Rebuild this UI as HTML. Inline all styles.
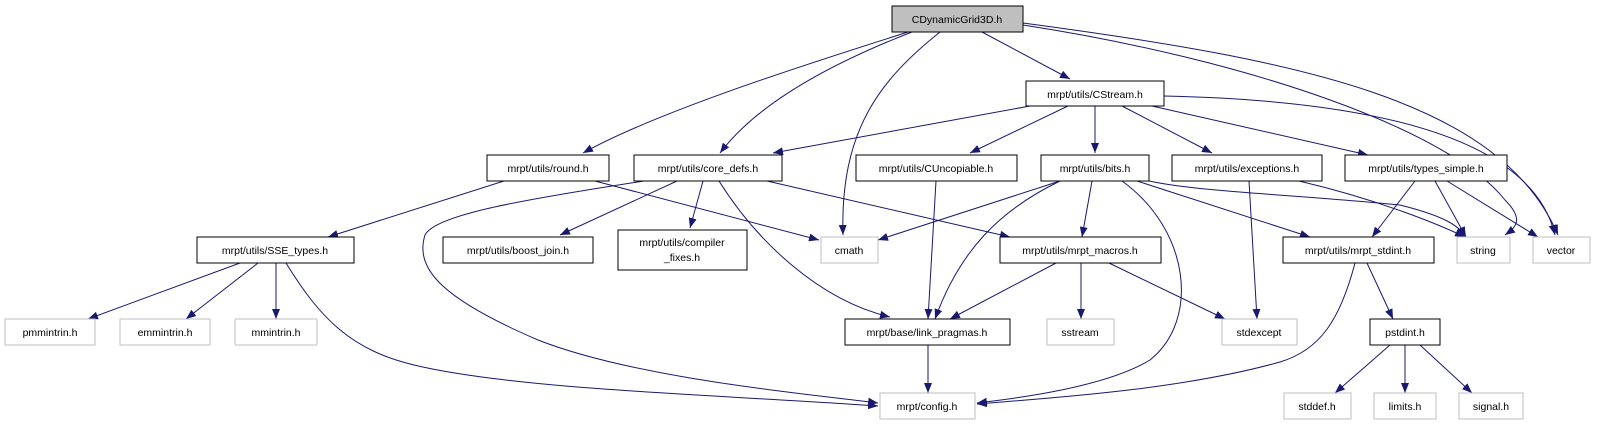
<!DOCTYPE html>
<html><head><meta charset="utf-8"><style>
html,body{margin:0;padding:0;background:#fff;}
svg{display:block;}
text{font-family:"Liberation Sans",sans-serif;font-size:10.5px;fill:#000;}
.b{fill:#fff;stroke:#000;stroke-width:1;}
.g{fill:#fff;stroke:#bfbfbf;stroke-width:1;}
.e{fill:none;stroke:#191970;stroke-width:1;}
</style></head><body>
<svg width="1624" height="425" viewBox="0 0 1624 425" xmlns="http://www.w3.org/2000/svg">
<defs><marker id="a" markerWidth="10" markerHeight="8" refX="10" refY="4" orient="auto" markerUnits="userSpaceOnUse"><path d="M0,0 L10,4 L0,8 z" fill="#191970"/></marker></defs>
<g marker-end="url(#a)">
<path class="e" d="M908,32 C820,60 660,110 583,153"/>
<path class="e" d="M912,32 C840,60 760,100 720,153"/>
<path class="e" d="M940,32 C880,80 840,130 843,235"/>
<path class="e" d="M982,32 L1070,79"/>
<path class="e" d="M1023,25 C1250,60 1450,130 1505,200 C1525,220 1515,228 1505,235"/>
<path class="e" d="M1023,23 C1300,60 1500,100 1558,235"/>
<path class="e" d="M1030,106 L773,153"/>
<path class="e" d="M1068,106 L970,153"/>
<path class="e" d="M1095,106 L1095,153"/>
<path class="e" d="M1122,106 L1212,153"/>
<path class="e" d="M1152,106 L1368,155"/>
<path class="e" d="M1164,96 C1350,100 1530,130 1555,235"/>
<path class="e" d="M644,181 C520,200 435,215 425,235 C414,270 445,300 538,340 C640,380 820,395 878,403"/>
<path class="e" d="M677,181 L560,235"/>
<path class="e" d="M703,181 L690,228"/>
<path class="e" d="M719,181 C756,240 818,300 890,317"/>
<path class="e" d="M767,181 L1010,237"/>
<path class="e" d="M504,181 L328,237"/>
<path class="e" d="M595,181 L819,240"/>
<path class="e" d="M240,263 L88,319"/>
<path class="e" d="M258,263 L186,319"/>
<path class="e" d="M276,263 L276,319"/>
<path class="e" d="M286,263 C321,320 352,350 414,365 C518,390 725,395 878,406"/>
<path class="e" d="M936,181 L928,319"/>
<path class="e" d="M1060,181 L878,240"/>
<path class="e" d="M1060,181 C1000,210 960,250 935,319"/>
<path class="e" d="M1092,181 L1082,237"/>
<path class="e" d="M1122,181 C1190,230 1200,320 1150,360 C1100,390 1000,400 977,403"/>
<path class="e" d="M1137,181 L1310,237"/>
<path class="e" d="M1149,181 C1200,192 1300,195 1400,205 C1440,215 1460,225 1465,237"/>
<path class="e" d="M1249,181 L1257,319"/>
<path class="e" d="M1299,181 C1380,200 1440,225 1465,237"/>
<path class="e" d="M1415,181 L1372,237"/>
<path class="e" d="M1435,181 L1466,237"/>
<path class="e" d="M1447,181 L1538,237"/>
<path class="e" d="M1056,263 L950,319"/>
<path class="e" d="M1081,263 L1081,319"/>
<path class="e" d="M1109,263 L1225,319"/>
<path class="e" d="M928,345 L928,393"/>
<path class="e" d="M1367,263 L1393,319"/>
<path class="e" d="M1355,263 C1340,320 1320,350 1280,362 C1180,390 1050,398 977,404"/>
<path class="e" d="M1390,345 L1335,393"/>
<path class="e" d="M1405,345 L1405,393"/>
<path class="e" d="M1420,345 L1472,393"/>
</g>
<rect x="892" y="6" width="131" height="26" fill="#bfbfbf" stroke="#000"/><text x="957" y="23" text-anchor="middle">CDynamicGrid3D.h</text>
<rect class="b" x="1026" y="81" width="138" height="25"/><text x="1095" y="98" text-anchor="middle">mrpt/utils/CStream.h</text>
<rect class="b" x="487" y="155" width="122" height="26"/><text x="548" y="172" text-anchor="middle">mrpt/utils/round.h</text>
<rect class="b" x="634" y="155" width="148" height="26"/><text x="708" y="172" text-anchor="middle">mrpt/utils/core_defs.h</text>
<rect class="b" x="856" y="155" width="161" height="26"/><text x="936" y="172" text-anchor="middle">mrpt/utils/CUncopiable.h</text>
<rect class="b" x="1041" y="155" width="108" height="26"/><text x="1095" y="172" text-anchor="middle">mrpt/utils/bits.h</text>
<rect class="b" x="1172" y="155" width="150" height="26"/><text x="1247" y="172" text-anchor="middle">mrpt/utils/exceptions.h</text>
<rect class="b" x="1345" y="155" width="162" height="26"/><text x="1426" y="172" text-anchor="middle">mrpt/utils/types_simple.h</text>
<rect class="b" x="197" y="237" width="157" height="26"/><text x="275" y="254" text-anchor="middle">mrpt/utils/SSE_types.h</text>
<rect class="b" x="443" y="237" width="150" height="26"/><text x="518" y="254" text-anchor="middle">mrpt/utils/boost_join.h</text>
<rect class="b" x="618" y="230" width="129" height="40"/><text x="682" y="246" text-anchor="middle">mrpt/utils/compiler</text><text x="682" y="261" text-anchor="middle">_fixes.h</text>
<rect class="g" x="821" y="237" width="57" height="26"/><text x="849" y="254" text-anchor="middle">cmath</text>
<rect class="b" x="1000" y="237" width="161" height="26"/><text x="1080" y="254" text-anchor="middle">mrpt/utils/mrpt_macros.h</text>
<rect class="b" x="1283" y="237" width="151" height="26"/><text x="1358" y="254" text-anchor="middle">mrpt/utils/mrpt_stdint.h</text>
<rect class="g" x="1457" y="237" width="53" height="26"/><text x="1483" y="254" text-anchor="middle">string</text>
<rect class="g" x="1533" y="237" width="57" height="26"/><text x="1561" y="254" text-anchor="middle">vector</text>
<rect class="g" x="5" y="319" width="90" height="26"/><text x="50" y="336" text-anchor="middle">pmmintrin.h</text>
<rect class="g" x="120" y="319" width="90" height="26"/><text x="165" y="336" text-anchor="middle">emmintrin.h</text>
<rect class="g" x="235" y="319" width="82" height="26"/><text x="276" y="336" text-anchor="middle">mmintrin.h</text>
<rect class="b" x="845" y="319" width="165" height="26"/><text x="927" y="336" text-anchor="middle">mrpt/base/link_pragmas.h</text>
<rect class="g" x="1047" y="319" width="67" height="26"/><text x="1080" y="336" text-anchor="middle">sstream</text>
<rect class="g" x="1222" y="319" width="75" height="26"/><text x="1259" y="336" text-anchor="middle">stdexcept</text>
<rect class="b" x="1370" y="319" width="70" height="26"/><text x="1405" y="336" text-anchor="middle">pstdint.h</text>
<rect class="g" x="880" y="393" width="95" height="26"/><text x="927" y="410" text-anchor="middle">mrpt/config.h</text>
<rect class="g" x="1284" y="393" width="67" height="26"/><text x="1317" y="410" text-anchor="middle">stddef.h</text>
<rect class="g" x="1374" y="393" width="62" height="26"/><text x="1405" y="410" text-anchor="middle">limits.h</text>
<rect class="g" x="1459" y="393" width="64" height="26"/><text x="1491" y="410" text-anchor="middle">signal.h</text>
</svg>
</body></html>
